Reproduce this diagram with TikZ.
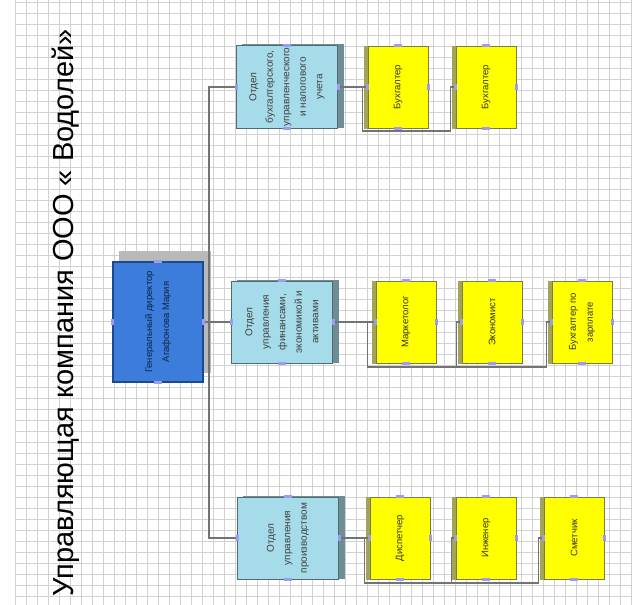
\documentclass[tikz,border=0pt]{standalone}
\usepackage{fontspec}
\setmainfont{Liberation Sans}
\usetikzlibrary{calc,backgrounds}

\definecolor{chiefblue}{HTML}{3C7DDB}
\definecolor{chiefedge}{HTML}{1B4A92}
\definecolor{deptblue}{HTML}{A6DCE9}
\definecolor{deptedge}{HTML}{4F6A72}
\definecolor{deptshade}{HTML}{6F8D95}
\definecolor{staffyellow}{HTML}{FFFF00}
\definecolor{staffedge}{HTML}{7A7A50}
\definecolor{staffshade}{HTML}{A3A35A}
\definecolor{handlecol}{HTML}{9C9CF2}
\definecolor{gridgray}{HTML}{D2D2D2}

\tikzset{
  orgbox/.style={rotate=90, align=center, inner sep=2pt},
  chief/.style={orgbox, fill=chiefblue, draw=chiefedge, line width=1.6pt,
    minimum width=120pt, minimum height=90pt, text=chiefedge!50!black,
    font=\fontsize{9.5}{17}\selectfont},
  dept/.style={orgbox, fill=deptblue, draw=deptedge, line width=1pt,
    minimum width=82pt, minimum height=101pt, text=black!75,
    font=\fontsize{10}{16.5}\selectfont},
  staff/.style={orgbox, fill=staffyellow, draw=staffedge, line width=1pt,
    minimum width=82pt, minimum height=60pt, text=black!80,
    font=\fontsize{9.5}{17}\selectfont},
  conn/.style={draw=black!55, line width=1.8pt},
  gridline/.style={draw=gridgray, line width=0.5pt},
  handle/.style={fill=handlecol},
}

\begin{document}
\begin{tikzpicture}[x=1pt, y=-1pt]
\useasboundingbox (0,0) rectangle (632,605);

% title
\node[rotate=90, inner sep=0pt, font=\fontsize{29}{34}\selectfont] (title) at (66,313)
  {Управляющая компания ООО « Водолей»};

% head
\node[chief] (gd) at (158,322) {Генеральный директор\\Агафонова Мария};

% departments
\node[dept] (d1) at (287,87) {Отдел\\бухгалтерского,\\управленческого\\и налогового\\учета};
\node[dept] (d2) at (282,322) {Отдел\\управления\\финансами,\\экономикой и\\активами};
\node[dept] (d3) at (288,538) {Отдел\\управления\\производством};

% staff
\node[staff] (s11) at (398,87) {Бухгалтер};
\node[staff] (s12) at (486,87) {Бухгалтер};
\node[staff] (s21) at (406,322) {Маркетолог};
\node[staff] (s22) at (492,322) {Экономист};
\node[staff] (s23) at (582,322) {Бухгалтер по\\зарплате};
\node[staff] (s31) at (400,538) {Диспетчер};
\node[staff] (s32) at (486,538) {Инженер};
\node[staff] (s33) at (574,538) {Сметчик};

% head -> departments
\coordinate (trunk) at ([xshift=5pt]gd.south);
\draw[conn] (gd.south) -- (trunk) |- (d1.north);
\draw[conn] (trunk) -- (d2.north);
\draw[conn] (trunk) |- (d3.north);

% departments -> staff
\draw[conn] (d1.south) -- (s11.north);
\draw[conn] ([xshift=-5pt]s11.north) -- ++(0,44) -| ([xshift=-5pt]s12.north) -- (s12.north);

\draw[conn] (d2.south) -- (s21.north);
\draw[conn] ([xshift=-8pt]s21.north) -- ++(0,45) -| ([xshift=-5pt]s22.north) -- (s22.north);
\draw[conn] ([xshift=-8pt]s21.north) ++(0,45) -| ([xshift=-5pt]s23.north) -- (s23.north);

\draw[conn] (d3.south) -- (s31.north);
\draw[conn] ([xshift=-5pt]s31.north) -- ++(0,45) -| ([xshift=-4pt]s32.north) -- (s32.north);
\draw[conn] ([xshift=-5pt]s31.north) ++(0,45) -| ([xshift=-5pt]s33.north) -- (s33.north);

% connection points
\foreach \n in {gd,d1,d2,d3,s11,s12,s21,s22,s23,s31,s32,s33} {
  \foreach \a in {north,south}
    \fill[handle] ([shift={(-1.5,-3)}]\n.\a) rectangle ([shift={(1.5,3)}]\n.\a);
  \foreach \a in {east,west}
    \fill[handle] ([shift={(-4,-1.5)}]\n.\a) rectangle ([shift={(4,1.5)}]\n.\a);
}

\begin{pgfonlayer}{background}
  % grid
  \foreach \gx in {15,26,...,632}
    \draw[gridline] (\gx,0) -- (\gx,605);
  \foreach \gy in {2,13,...,605}
    \draw[gridline] (15,\gy) -- (632,\gy);
  % shadows
  \fill[gray!55] ([shift={(7,-10)}]gd.south west) rectangle ([shift={(7,-10)}]gd.north east);
  \foreach \n in {d1,d2,d3}
    \fill[deptshade] ([shift={(6,-1)}]\n.south west) rectangle ([shift={(6,-1)}]\n.north east);
  \foreach \n in {s11,s12,s21,s22,s23,s31,s32,s33}
    \fill[staffshade] ([shift={(-4,0)}]\n.south west) rectangle ([shift={(-4,0)}]\n.north east);
\end{pgfonlayer}

\end{tikzpicture}
\end{document}
